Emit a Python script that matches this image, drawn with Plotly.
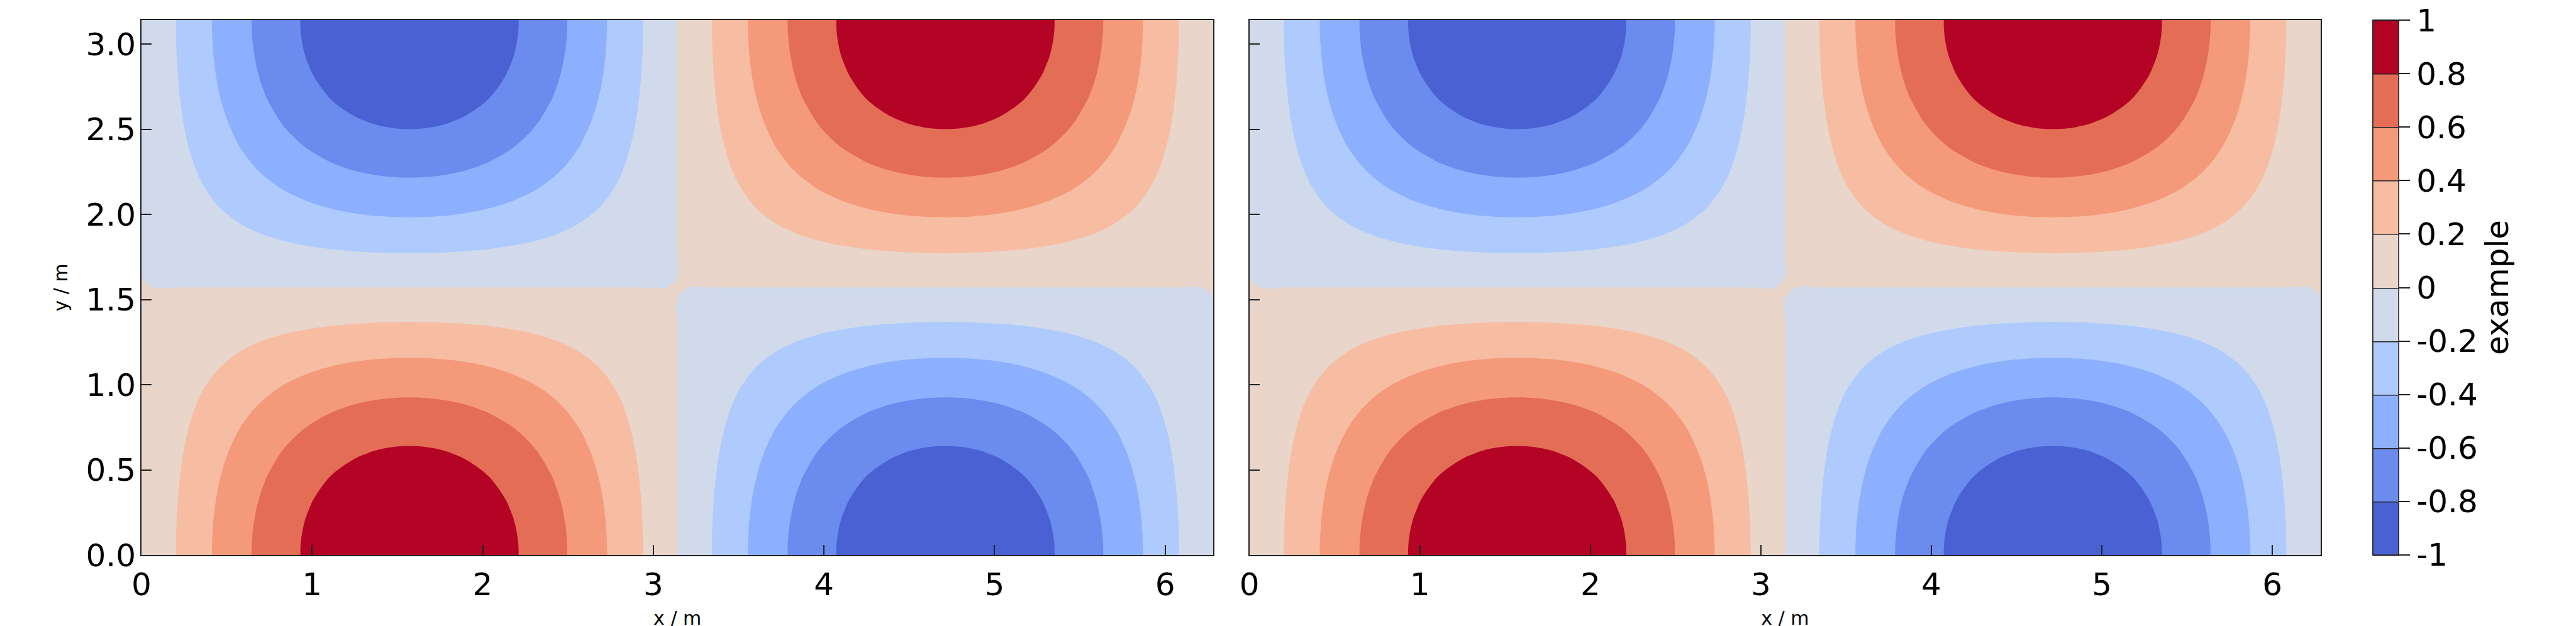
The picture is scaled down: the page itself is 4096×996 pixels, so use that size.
import plotly.graph_objects as go

# ---------------- data ----------------
# grid positions (m); the grid runs half a cell past each edge of the plotted area
x_values = [-0.06545, 0.06545, 0.19635, 0.32725, 0.45815, 0.58905, 0.71995, 0.85085, 0.98175,
            1.11265, 1.24355, 1.37445, 1.50535, 1.63625, 1.76715, 1.89805, 2.02895, 2.15985,
            2.29074, 2.42164, 2.55254, 2.68344, 2.81434, 2.94524, 3.07614, 3.20704, 3.33794,
            3.46884, 3.59974, 3.73064, 3.86154, 3.99244, 4.12334, 4.25424, 4.38514, 4.51604,
            4.64694, 4.77784, 4.90874, 5.03964, 5.17054, 5.30144, 5.43234, 5.56324, 5.69414,
            5.82504, 5.95594, 6.08684, 6.21774, 6.34864]
y_values = [-0.06545, 0.06545, 0.19635, 0.32725, 0.45815, 0.58905, 0.71995, 0.85085, 0.98175,
            1.11265, 1.24355, 1.37445, 1.50535, 1.63625, 1.76715, 1.89805, 2.02895, 2.15985,
            2.29074, 2.42164, 2.55254, 2.68344, 2.81434, 2.94524, 3.07614, 3.20704]
# field profile along x and along y (the plotted field is their product)
x_profile = [-0.0654, 0.0654, 0.1951, 0.3214, 0.4423, 0.5556, 0.6593, 0.7518, 0.8315, 0.8969,
             0.9469, 0.9808, 0.9979, 0.9979, 0.9808, 0.9469, 0.8969, 0.8315, 0.7518, 0.6593,
             0.5556, 0.4423, 0.3214, 0.1951, 0.0654, -0.0654, -0.1951, -0.3214, -0.4423, -0.5556,
             -0.6593, -0.7518, -0.8315, -0.8969, -0.9469, -0.9808, -0.9979, -0.9979, -0.9808, -0.9469,
             -0.8969, -0.8315, -0.7518, -0.6593, -0.5556, -0.4423, -0.3214, -0.1951, -0.0654, 0.0654]
y_profile = [0.9979, 0.9979, 0.9808, 0.9469, 0.8969, 0.8315, 0.7518, 0.6593, 0.5556, 0.4423,
             0.3214, 0.1951, 0.0654, -0.0654, -0.1951, -0.3214, -0.4423, -0.5556, -0.6593, -0.7518,
             -0.8315, -0.8969, -0.9469, -0.9808, -0.9979, -0.9979]

levels_start, levels_end, levels_step = -1.0, 1.0001, 0.2
x_range = [0, 6.28319]
y_range = [0, 3.14159]
x_tick_vals = [0, 1, 2, 3, 4, 5, 6]
y_tick_vals = [0.0, 0.5, 1.0, 1.5, 2.0, 2.5, 3.0]
cb_tick_vals = [0.9999, 0.8, 0.6, 0.4, 0.2, 0, -0.2, -0.4, -0.6, -0.8, -0.9999]
cb_tick_text = ["1", "0.8", "0.6", "0.4", "0.2", "0", "-0.2", "-0.4", "-0.6", "-0.8", "-1"]
band_colors = ["#4961d2", "#6b8cee", "#8db0fe", "#afcafc", "#d0daeb",
               "#e9d5ca", "#f7bda3", "#f49a7b", "#e46d56", "#b40426"]

z_values = [[yp * xp for xp in x_profile] for yp in y_profile]

# stepped colour scale
n = len(band_colors)
colorscale = []
for i, c in enumerate(band_colors):
    colorscale.append([i / n, c])
    colorscale.append([(i + 1) / n, c])

# ---------------- layout constants (output px) ----------------
W, H = 4096, 996
FONT = "DejaVu Sans"
TICK_FS = 50
TITLE_FS = 30
ML, MR, MT, MB = 217, 414, 24, 121
PW = W - ML - MR

left_dom = [0.0, (1921.4 - ML) / PW]
right_dom = [(1978.6 - ML) / PW, 1.0]
cb_x = (3765 - ML) / PW

cb_common = dict(
    thickness=41, thicknessmode="pixels",
    len=1.0, lenmode="fraction",
    x=cb_x, xanchor="left", xpad=0,
    y=0.5, yanchor="middle", ypad=0,
    outlinecolor="#222222", outlinewidth=1.5,
    tickmode="array", tickvals=cb_tick_vals,
)

contours = dict(start=levels_start, end=levels_end, size=levels_step,
                coloring="fill", showlines=False)

fig = go.Figure()

# left panel (labelled colour bar)
fig.add_trace(go.Contour(
    x=x_values, y=y_values, z=z_values,
    contours=contours, line=dict(smoothing=1.0, width=0),
    colorscale=colorscale, zmin=-1, zmax=1, zauto=False,
    xaxis="x", yaxis="y",
    colorbar=dict(**cb_common, ticktext=cb_tick_text, ticks="outside", ticklen=18,
                  tickwidth=1.5, tickcolor="#222222", ticklabeloverflow="allow",
                  tickfont=dict(family=FONT, size=TICK_FS, color="black"),
                  title=dict(text="example", side="right",
                             font=dict(family=FONT, size=TICK_FS, color="black"))),
))
# right panel
fig.add_trace(go.Contour(
    x=x_values, y=y_values, z=z_values,
    contours=contours, line=dict(smoothing=1.0, width=0),
    colorscale=colorscale, zmin=-1, zmax=1, zauto=False,
    xaxis="x2", yaxis="y2", showscale=False,
))
# helper: supplies the level separator lines on the colour bar (its own axes are hidden)
fig.add_trace(go.Contour(
    x=x_values, y=y_values, z=z_values,
    contours=dict(start=levels_start, end=levels_end, size=levels_step,
                  coloring="fill", showlines=True),
    line=dict(width=1.5, color="#222222"),
    colorscale=colorscale, zmin=-1, zmax=1, zauto=False,
    xaxis="x3", yaxis="y3", hoverinfo="skip",
    colorbar=dict(**cb_common, ticks="", showticklabels=False),
))

axis_common = dict(
    showgrid=False, zeroline=False, showline=True, linecolor="#222222", linewidth=2,
    mirror=True, ticks="inside", ticklen=16, tickwidth=1.5, tickcolor="#222222",
    tickfont=dict(family=FONT, size=TICK_FS, color="black"), automargin=False,
)

gap_dom = [left_dom[1] + 0.002, right_dom[0] - 0.002]

fig.update_layout(
    width=W, height=H,
    margin=dict(l=ML, r=MR, t=MT, b=MB, autoexpand=False),
    paper_bgcolor="white", plot_bgcolor="rgba(0,0,0,0)",
    showlegend=False,
    font=dict(family=FONT, color="black"),
    xaxis=dict(**axis_common, domain=left_dom, range=x_range, tickmode="array",
               tickvals=x_tick_vals, anchor="y", ticklabelstandoff=2,
               title=dict(text="x / m", font=dict(family=FONT, size=TITLE_FS), standoff=15)),
    yaxis=dict(**axis_common, domain=[0, 1], range=y_range, tickmode="array",
               tickvals=y_tick_vals, tickformat=".1f", anchor="x", ticklabelstandoff=-3,
               title=dict(text="y / m", font=dict(family=FONT, size=TITLE_FS), standoff=20)),
    xaxis2=dict(**axis_common, domain=right_dom, range=x_range, tickmode="array",
                tickvals=x_tick_vals, anchor="y2", ticklabelstandoff=2,
                title=dict(text="x / m", font=dict(family=FONT, size=TITLE_FS), standoff=15)),
    yaxis2=dict(**axis_common, domain=[0, 1], range=y_range, tickmode="array",
                tickvals=y_tick_vals, anchor="x2", showticklabels=False),
    xaxis3=dict(domain=gap_dom, range=[100, 101], visible=False, anchor="y3"),
    yaxis3=dict(domain=[0.45, 0.46], range=[100, 101], visible=False, anchor="x3"),
)

fig.write_html("out.html")
